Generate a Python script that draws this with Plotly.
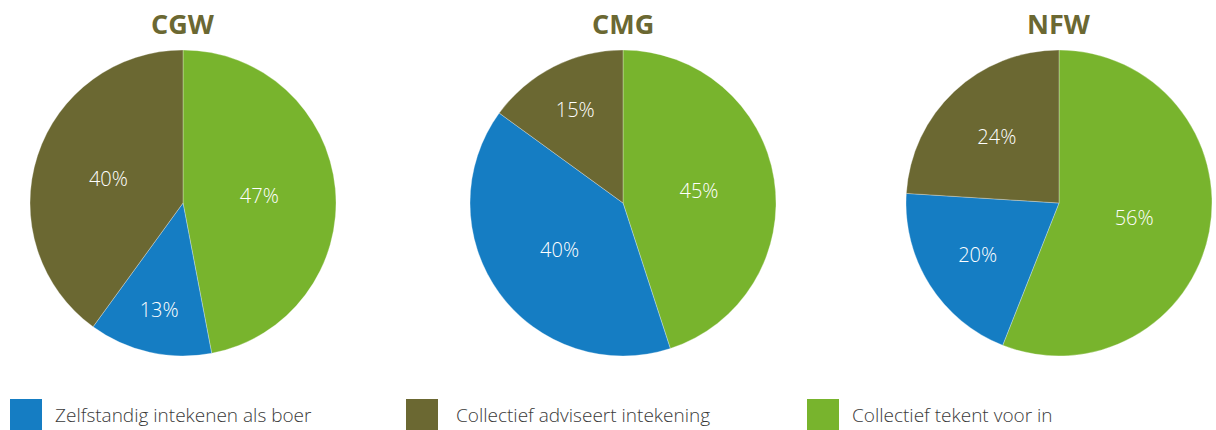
import plotly.graph_objects as go

W, H = 1216, 430

titles = ["CGW", "CMG", "NFW"]
categories = ["Collectief tekent voor in", "Zelfstandig intekenen als boer", "Collectief adviseert intekening"]
values_cgw = [47, 13, 40]
values_cmg = [45, 40, 15]
values_nfw = [56, 20, 24]
legend_order = ["Zelfstandig intekenen als boer", "Collectief adviseert intekening", "Collectief tekent voor in"]

colors = {
    "Collectief tekent voor in": "#78b42d",
    "Zelfstandig intekenen als boer": "#157dc3",
    "Collectief adviseert intekening": "#6b6832",
}
TITLE_COLOR = "#6b6832"
FONT = "Open Sans"

# pie centres (px) and radius
centers_x = [183, 623, 1059]
center_y = 203
R = 153

fig = go.Figure()
for title, vals, cx in zip(titles, [values_cgw, values_cmg, values_nfw], centers_x):
    x0, x1 = (cx - R) / W, (cx + R) / W
    y0, y1 = 1 - (center_y + R) / H, 1 - (center_y - R) / H
    fig.add_trace(go.Pie(
        labels=categories,
        values=vals,
        sort=False,
        direction="clockwise",
        rotation=0,
        marker=dict(colors=[colors[c] for c in categories], line=dict(color="rgba(255,255,255,0.6)", width=0.5)),
        texttemplate="%{value}%",
        textposition="inside",
        insidetextorientation="horizontal",
        textfont=dict(family=FONT, size=20, color="white", weight=300),
        hoverinfo="label+value",
        showlegend=False,
        domain=dict(x=[x0, x1], y=[y0, y1]),
    ))
    fig.add_annotation(
        x=cx / W, y=1 - 23 / H, xref="paper", yref="paper",
        text=f"<b>{title}</b>", showarrow=False,
        font=dict(family=FONT, size=27, color=TITLE_COLOR),
        xanchor="center", yanchor="middle",
    )

# custom legend
legend_x = [10, 406, 807]
legend_text_x = [53, 454, 850]
for name, lx, tx in zip(legend_order, legend_x, legend_text_x):
    fig.add_shape(
        type="rect", xref="paper", yref="paper",
        x0=lx / W, x1=(lx + 32) / W, y0=0, y1=1 - 399 / H,
        fillcolor=colors[name], line=dict(width=0),
    )
    fig.add_annotation(
        x=tx / W, y=1 - 415 / H, xref="paper", yref="paper",
        text=name, showarrow=False, xanchor="left", yanchor="middle",
        font=dict(family=FONT, size=19, color="#3a3a3a", weight=300),
    )

fig.update_layout(
    width=W, height=H,
    margin=dict(l=0, r=0, t=0, b=0),
    paper_bgcolor="white", plot_bgcolor="white",
    font=dict(family=FONT),
)

fig.write_html(
    "out.html",
    config={"displayModeBar": False},
    post_script="document.body.style.margin='0';document.body.style.padding='0';",
)
